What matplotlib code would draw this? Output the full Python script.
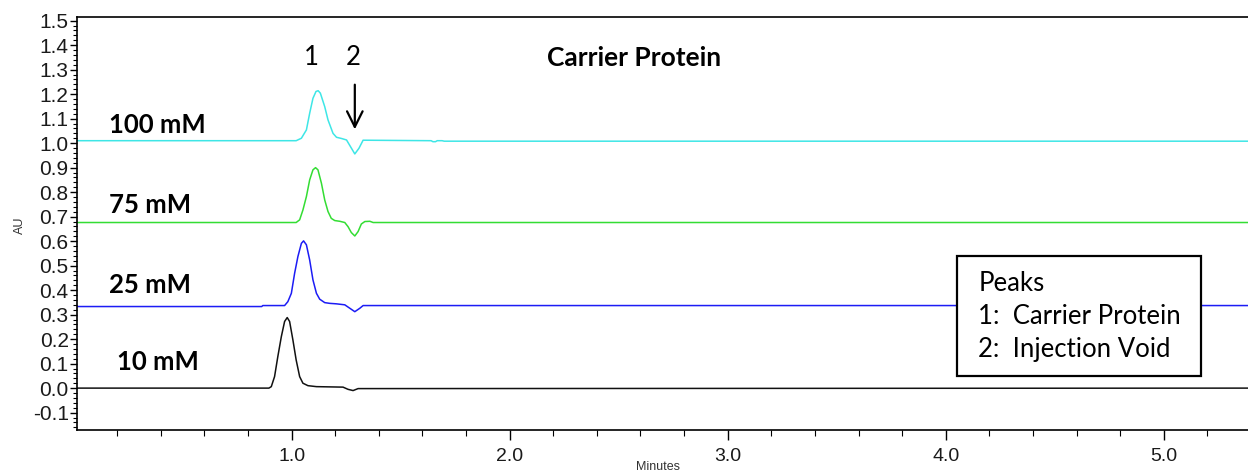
import matplotlib.pyplot as plt
from matplotlib.patches import Rectangle
from matplotlib.ticker import MultipleLocator

# traces (minutes, AU)
t_100 = [0.016, 1.021, 1.045, 1.068, 1.083, 1.098, 1.112, 1.122, 1.132, 1.152, 1.167, 1.190, 1.206,
         1.229, 1.252, 1.270, 1.290, 1.309, 1.328, 1.640, 1.648, 1.660, 1.668, 1.690, 1.700, 5.40]
au_100 = [1.010, 1.010, 1.020, 1.054, 1.122, 1.183, 1.211, 1.214, 1.204, 1.149, 1.095, 1.040, 1.024,
          1.019, 1.013, 0.986, 0.956, 0.979, 1.012, 1.010, 1.006, 1.006, 1.010, 1.010, 1.008, 1.008]

t_75 = [0.016, 1.021, 1.037, 1.052, 1.068, 1.083, 1.098, 1.110, 1.121, 1.137, 1.152, 1.167,
        1.182, 1.198, 1.221, 1.244, 1.259, 1.274, 1.290, 1.305, 1.320, 1.336, 1.359, 1.374, 5.40]
au_75 = [0.676, 0.676, 0.687, 0.727, 0.782, 0.850, 0.891, 0.900, 0.891, 0.836, 0.768, 0.721,
         0.693, 0.684, 0.681, 0.676, 0.659, 0.635, 0.621, 0.639, 0.670, 0.680, 0.681, 0.676, 0.676]

t_25 = [0.016, 0.863, 0.868, 0.968, 0.983, 0.999, 1.014, 1.029, 1.045, 1.055, 1.068, 1.083,
        1.098, 1.114, 1.129, 1.152, 1.175, 1.206, 1.244, 1.267, 1.290, 1.313, 1.328, 5.40]
au_25 = [0.333, 0.333, 0.337, 0.337, 0.353, 0.387, 0.469, 0.537, 0.591, 0.601, 0.585, 0.523,
         0.442, 0.387, 0.363, 0.349, 0.346, 0.344, 0.340, 0.326, 0.312, 0.326, 0.337, 0.337]

t_10 = [0.016, 0.896, 0.907, 0.922, 0.937, 0.953, 0.968, 0.980, 0.991, 1.006, 1.021, 1.037,
        1.052, 1.075, 1.114, 1.236, 1.259, 1.282, 1.305, 5.40]
au_10 = [0.000, 0.000, 0.006, 0.047, 0.129, 0.210, 0.272, 0.288, 0.272, 0.197, 0.115, 0.047,
         0.020, 0.010, 0.006, 0.004, -0.005, -0.010, -0.002, 0.000]

trace_names = ["100 mM", "75 mM", "25 mM", "10 mM"]
trace_colors = ["#3ee6e6", "#33dd33", "#1c1cf5", "#111111"]
name_pos = [(0.163, 1.074), (0.163, 0.748), (0.163, 0.421), (0.20, 0.107)]

peak_labels = ["1", "2"]
peak_pos = [1.089, 1.281]
legend_lines = ["Peaks", "1:  Carrier Protein", "2:  Injection Void"]

fig = plt.figure(figsize=(12.48, 4.76), dpi=100)
ax = fig.add_axes([77 / 1248, 1 - 430 / 476, 1 - 77 / 1248, (430 - 16.5) / 476])

for t, au, c in zip([t_100, t_75, t_25, t_10], [au_100, au_75, au_25, au_10], trace_colors):
    ax.plot(t, au, color=c, lw=1.1)

ax.set_xlim(0.016, 5.386)
ax.set_ylim(-0.171, 1.517)

ax.xaxis.set_major_locator(MultipleLocator(1.0))
ax.xaxis.set_minor_locator(MultipleLocator(0.2))
ax.yaxis.set_major_locator(MultipleLocator(0.1))
ax.yaxis.set_minor_locator(MultipleLocator(0.02))
ax.xaxis.set_major_formatter(plt.FormatStrFormatter("%.1f"))
ax.yaxis.set_major_formatter(plt.FormatStrFormatter("%.1f"))
ax.tick_params(axis="y", which="major", length=5, width=1, labelsize=15, pad=1)
ax.tick_params(axis="y", which="minor", length=3, width=0.8)
ax.tick_params(axis="x", which="major", length=7, width=1, labelsize=14, pad=6)
ax.tick_params(axis="x", which="minor", length=4, width=0.8)
for lab in ax.get_xticklabels() + ax.get_yticklabels():
    lab.set_family("Liberation Sans")
    lab.set_color("#1a1a1a")
ax.spines["right"].set_visible(False)
for s in ["left", "bottom", "top"]:
    ax.spines[s].set_linewidth(1.2)

cal = ["Lato", "DejaVu Sans"]
for name, (x, y) in zip(trace_names, name_pos):
    ax.text(x, y, name, family=cal, fontsize=18.5, fontweight="bold", va="center", ha="left")

for lab, x in zip(peak_labels, peak_pos):
    ax.text(x, 1.348, lab, family=cal, fontsize=18.5, va="center", ha="center")
ax.annotate("", xy=(1.29, 1.045), xytext=(1.29, 1.25),
            arrowprops=dict(arrowstyle="->", lw=1.6, mutation_scale=28, color="black"))

ax.text(2.57, 1.348, "Carrier Protein", family=cal, fontsize=19, fontweight="bold",
        va="center", ha="center")

ax.add_patch(Rectangle((4.053, 0.050), 1.117, 0.491, facecolor="white", edgecolor="black",
                       lw=1.6, zorder=5))
for line, y in zip(legend_lines, [0.429, 0.291, 0.156]):
    ax.text(4.149, y, line, family=cal, fontsize=18.5, va="center", ha="left", zorder=6)

fig.text(20 / 1248, 1 - 225 / 476, "AU", rotation=90, family="Liberation Sans", fontsize=9,
         va="center", ha="center", color="#333333")
fig.text(658 / 1248, 1 - 467 / 476, "Minutes", family="Liberation Sans", fontsize=9,
         va="center", ha="center", color="#333333")

fig.savefig("out.png", dpi=100)
